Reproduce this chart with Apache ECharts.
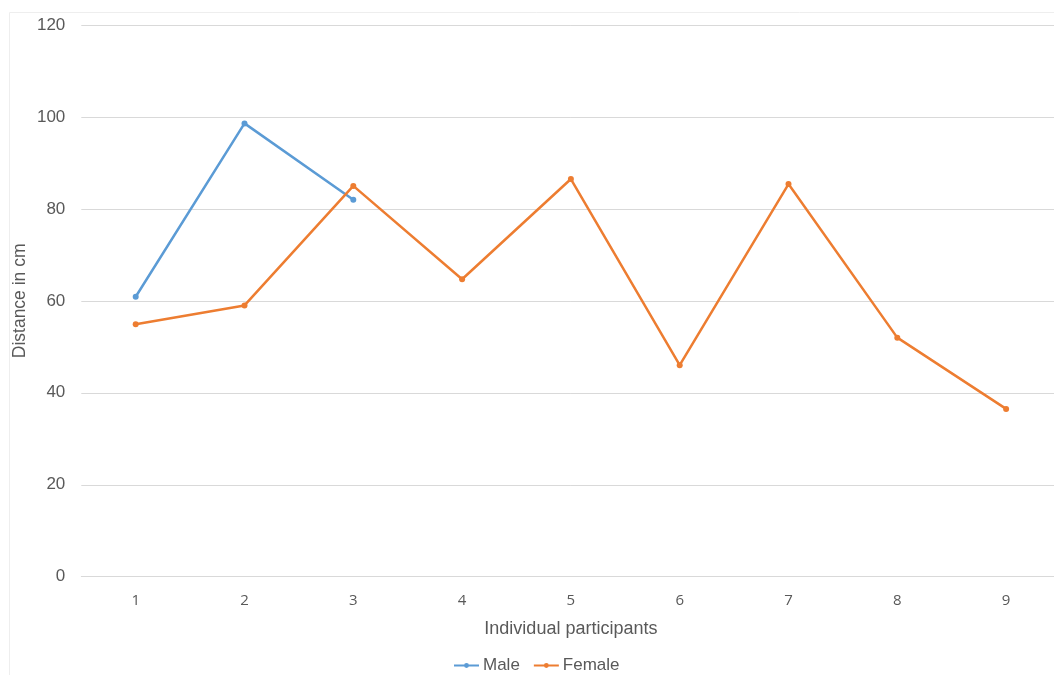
<!DOCTYPE html>
<html>
<head>
<meta charset="utf-8">
<script src="https://cdn.jsdelivr.net/npm/echarts@6/dist/echarts.min.js"></script>
<style>
  html, body { margin: 0; padding: 0; background: #fff; overflow: hidden; }
  #chart { width: 1062px; height: 675px; }
</style>
</head>
<body>
<div id="chart"></div>
<script>
// Participant numbers along the x axis
const participants = ['1', '2', '3', '4', '5', '6', '7', '8', '9'];
// Distance in cm per participant
const maleDistance = [60.9, 98.6, 82.0, null, null, null, null, null, null];
const femaleDistance = [54.9, 59.0, 85.0, 64.7, 86.5, 46.0, 85.4, 52.0, 36.5];
// Value axis range
const yMin = 0, yMax = 120, yStep = 20;

const textColor = '#595959';
const font = 'Arial, "Liberation Sans", sans-serif';

const chart = echarts.init(document.getElementById('chart'), null, { renderer: 'canvas' });
chart.setOption({
  backgroundColor: '#ffffff',
  animation: false,
  graphic: [{
    type: 'rect',
    left: 7, top: 10,
    shape: { width: 1060, height: 663 },
    style: { fill: 'none', stroke: '#eeeeee', lineWidth: 1 },
    silent: true, z: -1
  }],
  grid: { left: 81.3, width: 979.2, top: 25, height: 551.7, containLabel: false },
  legend: {
    bottom: -4,
    left: 448,
    padding: 5,
    itemWidth: 25,
    itemHeight: 6,
    itemGap: 13,
    textStyle: { color: textColor, fontSize: 17, fontFamily: font, padding: [0, 0, 0, -1] },
    data: ['Male', 'Female']
  },
  xAxis: {
    type: 'category',
    data: participants,
    boundaryGap: true,
    name: 'Individual participants',
    nameLocation: 'middle',
    nameGap: 43,
    nameMoveOverlap: false,
    nameTextStyle: { color: textColor, fontSize: 18, fontFamily: font },
    axisLine: { lineStyle: { color: '#d9d9d9', width: 1 } },
    axisTick: { show: false },
    axisLabel: { color: textColor, fontSize: 15, fontFamily: '"Open Sans", sans-serif', margin: 17 }
  },
  yAxis: {
    type: 'value',
    min: yMin, max: yMax, interval: yStep,
    name: 'Distance in cm',
    nameLocation: 'middle',
    nameGap: 52,
    nameMoveOverlap: false,
    nameRotate: 90,
    nameTextStyle: { color: textColor, fontSize: 17.5, fontFamily: font },
    axisLine: { show: false },
    axisTick: { show: false },
    axisLabel: { color: textColor, fontSize: 17, fontFamily: font, margin: 16 },
    splitLine: { lineStyle: { color: '#d9d9d9', width: 1 } }
  },
  series: [
    {
      name: 'Male',
      type: 'line',
      data: maleDistance,
      connectNulls: false,
      symbol: 'circle',
      symbolSize: 6,
      color: '#5b9bd5',
      lineStyle: { width: 2.5, color: '#5b9bd5' },
      itemStyle: { color: '#5b9bd5' }
    },
    {
      name: 'Female',
      type: 'line',
      data: femaleDistance,
      symbol: 'circle',
      symbolSize: 6,
      color: '#ed7d31',
      lineStyle: { width: 2.5, color: '#ed7d31' },
      itemStyle: { color: '#ed7d31' }
    }
  ]
});
</script>
</body>
</html>
